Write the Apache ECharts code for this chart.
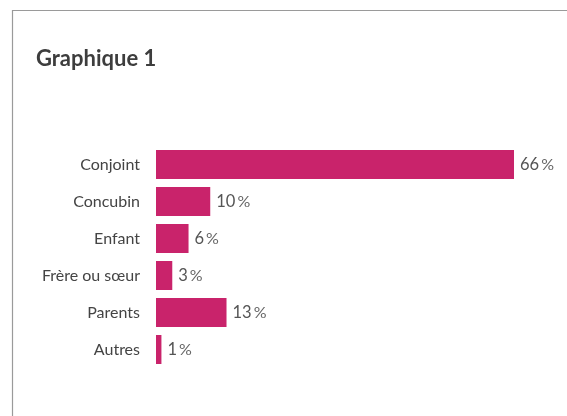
<!DOCTYPE html>
<html><head><meta charset="utf-8">
<script src="https://cdn.jsdelivr.net/npm/echarts@6/dist/echarts.min.js"></script>
<style>html,body{margin:0;padding:0;background:#fff}#c{width:567px;height:416px}</style>
</head><body><div id="c"></div>
<script>
const categories = ["Conjoint","Concubin","Enfant","Frère ou sœur","Parents","Autres"];
const values = [66,10,6,3,13,1];
const chart = echarts.init(document.getElementById('c'));
chart.setOption({
  animation:false,
  backgroundColor:'#fff',
  title:{text:'Graphique 1',left:31,top:43,textStyle:{fontFamily:'Lato',fontWeight:'bold',fontSize:22,color:'#3d3d3d'}},
  graphic:[
    {type:'line',shape:{x1:12,y1:10.5,x2:567,y2:10.5},style:{stroke:'#9a9a9a',lineWidth:1.2}},
    {type:'line',shape:{x1:12.5,y1:10,x2:12.5,y2:416},style:{stroke:'#9a9a9a',lineWidth:1.2}}
  ],
  grid:{left:156,right:53,top:146,height:222,containLabel:false},
  xAxis:{type:'value',min:0,max:66,show:false},
  yAxis:{type:'category',data:categories,inverse:true,
    axisLine:{show:false},axisTick:{show:false},
    axisLabel:{margin:16,fontFamily:'Lato',fontSize:16,color:'#444'}},
  series:[{type:'bar',data:values,barWidth:29,
    itemStyle:{color:'#C9236B'},
    label:{show:true,position:'right',distance:6,color:'#555',
      formatter:p=>'{n|'+p.value+'}{p|\u2009%}',
      rich:{n:{fontFamily:'Lato',fontSize:16.5,color:'#555'},p:{fontFamily:'Lato',fontSize:16,color:'#666'}}}}]
});
</script></body></html>
